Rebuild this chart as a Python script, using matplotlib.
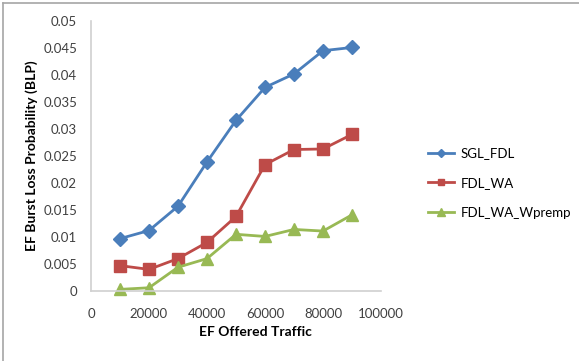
import matplotlib
matplotlib.use('Agg')
from matplotlib import pyplot as plt
from matplotlib.lines import Line2D

# EF offered traffic vs burst loss probability
traffic = [10000, 20000, 30000, 40000, 50000, 60000, 70000, 80000, 90000]
sgl_fdl = [0.0097, 0.0112, 0.0157, 0.0239, 0.0316, 0.0377, 0.0402, 0.0445, 0.0451]
fdl_wa = [0.0047, 0.0040, 0.0060, 0.0090, 0.0138, 0.0234, 0.0262, 0.0263, 0.0290]
fdl_wa_wpremp = [0.0003, 0.0006, 0.0044, 0.0060, 0.0105, 0.0101, 0.0114, 0.0111, 0.0141]

x_ticks = [0, 20000, 40000, 60000, 80000, 100000]
y_ticks = [0, 0.005, 0.01, 0.015, 0.02, 0.025, 0.03, 0.035, 0.04, 0.045, 0.05]

plt.rcParams['font.family'] = ['Lato', 'DejaVu Sans']

W, H = 579, 361
fig = plt.figure(figsize=(W / 100, H / 100), dpi=100)
fig.patch.set_facecolor('white')

# outer chart frame (only top and left edges visible)
fig.add_artist(Line2D([3 / W, 3 / W], [0, 1 - 3 / H], transform=fig.transFigure, color='#a6a6a6', lw=1.2))
fig.add_artist(Line2D([3 / W, 1], [1 - 3 / H, 1 - 3 / H], transform=fig.transFigure, color='#a6a6a6', lw=1.2))

ax = fig.add_axes([91 / W, (H - 291) / H, (381 - 91) / W, (291 - 21) / H])

ax.plot(traffic, sgl_fdl, color='#4a7ebb', lw=2, marker='D', ms=7, label='SGL_FDL')
ax.plot(traffic, fdl_wa, color='#be4b48', lw=2, marker='s', ms=8, label='FDL_WA')
ax.plot(traffic, fdl_wa_wpremp, color='#98b954', lw=2, marker='^', ms=9, label='FDL_WA_Wpremp',
        clip_on=False)

ax.set_xlim(0, 100000)
ax.set_ylim(0, 0.05)
ax.set_xticks(x_ticks)
ax.set_xticklabels([str(v) for v in x_ticks])
ax.set_yticks(y_ticks)
ax.set_yticklabels(['0'] + ['%g' % v for v in y_ticks[1:]])
ax.tick_params(length=0, labelsize=9.5, colors='#404040', pad=10)
ax.tick_params(axis='x', pad=12)

for s in ['top', 'right']:
    ax.spines[s].set_visible(False)
for s in ['left', 'bottom']:
    ax.spines[s].set_color('#d0d0d0')
    ax.spines[s].set_linewidth(1.2)

ax.set_xlabel('EF Offered Traffic', fontsize=10, fontweight='bold', va='center')
ax.xaxis.set_label_coords(0.566, -0.152)
ax.set_ylabel('EF Burst Loss Probability (BLP)', fontsize=10, fontweight='bold', va='center')
ax.yaxis.set_label_coords(-0.205, 0.5)

ax.legend(loc='center left', bbox_to_anchor=(1.12, 0.40), frameon=False, fontsize=9.5,
          handlelength=2.0, labelspacing=1.35, markerscale=0.6, handletextpad=0.5)

fig.savefig('out.png', dpi=100)
